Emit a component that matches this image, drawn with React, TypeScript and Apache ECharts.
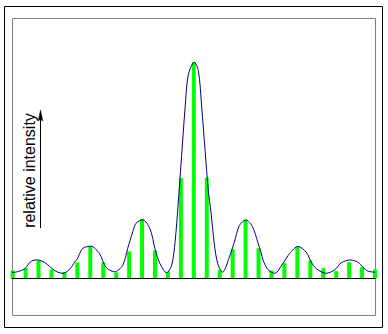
import React, { useEffect, useRef } from "react";
import * as echarts from "echarts";

// Bar positions (sample index) and heights (relative intensity, peak = 100)
const barIndex = [0, 1, 2, 3, 4, 5, 6, 7, 8, 9, 10, 11, 12, 13, 14, 15, 16, 17, 18, 19, 20, 21, 22, 23, 24, 25, 26, 27, 28];
const barValues = [3.7, 4.8, 8.3, 4.2, 3.0, 7.4, 14.8, 7.5, 2.8, 12.5, 27.4, 12.9, 3.2, 46.4, 100, 46.5, 4.0, 13.5, 27.1, 14.0, 3.7, 7.1, 14.5, 8.3, 4.8, 3.4, 7.5, 5.2, 4.2];

// Envelope curve (x in sample index units)
const curveX = [-0.05, 0.2, 0.93, 1.32, 1.57, 1.9, 2.48, 2.86, 3.2, 3.5, 3.89, 4.41, 4.8, 5.0, 5.41, 6.05, 6.7, 7.21, 7.87, 8.5, 8.89, 9.28, 9.53, 10.05, 10.61, 11.0, 11.39, 11.9, 12.29, 12.55, 12.8, 13.06, 13.32, 13.57, 14.03, 14.35, 14.61, 14.87, 15.12, 15.33, 15.58, 15.85, 16.22, 16.74, 17.13, 17.52, 18.03, 18.55, 18.94, 19.19, 19.35, 19.74, 20.25, 20.89, 21.41, 22.05, 22.69, 23.08, 23.47, 24.22, 24.89, 25.4, 26.11, 26.69, 27.07, 27.46, 28.0];
const curveY = [2.8, 2.9, 4.5, 7.4, 8.3, 8.6, 7.4, 5.5, 3.9, 2.9, 2.4, 4.3, 7.6, 9.1, 13.9, 14.9, 11.6, 5.2, 3.1, 6.0, 13.9, 21.6, 25.5, 27.1, 23.0, 13.7, 6.8, 2.6, 6.2, 16.8, 35.3, 57.0, 78.4, 94.0, 99.9, 96.1, 79.1, 59.1, 40.6, 30.5, 16.0, 6.8, 2.9, 9.8, 16.8, 24.5, 27.1, 23.7, 16.8, 12.1, 8.5, 4.0, 2.4, 7.0, 11.6, 14.8, 12.1, 7.5, 4.5, 2.4, 4.0, 7.3, 8.6, 7.5, 5.2, 3.4, 2.9];

const axisTitle = "relative intensity";

export default function App() {
  const ref = useRef<HTMLDivElement>(null);
  useEffect(() => {
    if (!ref.current) return;
    const chart = echarts.init(ref.current, null, { renderer: "svg" });
    chart.setOption({
      animation: false,
      backgroundColor: "#ffffff",
      grid: { left: 12, top: 62, width: 363, height: 216.5 },
      xAxis: {
        type: "value",
        min: -0.05,
        max: 28,
        z: 5,
        axisLine: { show: true, onZero: false, lineStyle: { color: "#000000", width: 1 } },
        axisTick: { show: false },
        axisLabel: { show: false },
        splitLine: { show: false },
      },
      yAxis: {
        type: "value",
        min: 0,
        max: 100,
        show: false,
        splitLine: { show: false },
      },
      series: [
        {
          type: "bar",
          data: barIndex.map((x, i) => [x, barValues[i]]),
          barWidth: 4,
          itemStyle: { color: "#00ff00" },
          z: 2,
        },
        {
          type: "line",
          data: curveX.map((x, i) => [x, curveY[i]]),
          smooth: 0.3,
          symbol: "none",
          lineStyle: { color: "#000080", width: 1 },
          z: 3,
        },
      ],
      graphic: [
        {
          type: "rect",
          shape: { x: 4.5, y: 6.5, width: 378, height: 321 },
          style: { fill: "none", stroke: "#000000", lineWidth: 1 },
          z: 10,
        },
        {
          type: "rect",
          shape: { x: 12.5, y: 18.5, width: 363, height: 297 },
          style: { fill: "none", stroke: "#808080", lineWidth: 1 },
          z: 1,
        },
        {
          type: "text",
          x: 29,
          y: 170.5,
          rotation: Math.PI / 2,
          style: {
            text: axisTitle,
            fontFamily: "Liberation Sans, Arial, sans-serif",
            fontSize: 16,
            fill: "#000000",
            align: "center",
            verticalAlign: "middle",
          },
          z: 10,
        },
        {
          type: "line",
          shape: { x1: 40.5, y1: 228, x2: 40.5, y2: 116 },
          style: { stroke: "#000000", lineWidth: 1 },
          z: 10,
        },
        {
          type: "polygon",
          shape: { points: [[40.5, 110], [38.2, 121], [40.5, 119], [42.8, 121]] },
          style: { fill: "#000000", stroke: "#000000", lineWidth: 0.5 },
          z: 10,
        },
      ],
    });
    return () => chart.dispose();
  }, []);
  return (
    <div
      ref={ref}
      style={{ position: "fixed", left: 0, top: 0, width: 388, height: 334, background: "#fff" }}
    />
  );
}
